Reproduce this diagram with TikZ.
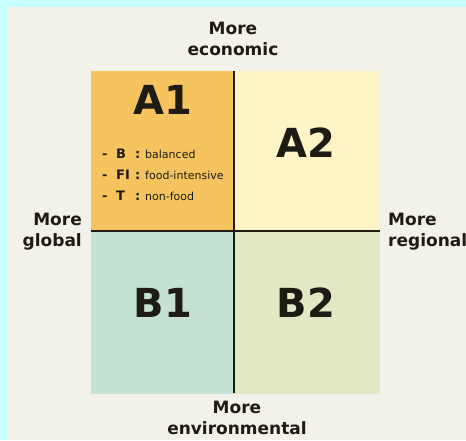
\documentclass[tikz,border=0pt]{standalone}
\usepackage{fontspec}
\setmainfont{DejaVu Sans}
\definecolor{frame}{HTML}{C6FFFF}
\definecolor{paper}{HTML}{F2F1EA}
\definecolor{qorange}{HTML}{F6C45E}
\definecolor{qcream}{HTML}{FFF4C6}
\definecolor{qmint}{HTML}{C5E1D1}
\definecolor{qolive}{HTML}{E2E8C4}
\definecolor{inkdark}{HTML}{1E1A14}

\tikzset{
  axislbl/.style={font=\fontsize{17}{21}\selectfont\bfseries, text=inkdark, inner sep=0pt},
  quadlbl/.style={font=\fontsize{40}{44}\selectfont\bfseries, text=inkdark, anchor=base, inner sep=0pt},
  keylbl/.style={font=\fontsize{13}{15}\selectfont\bfseries, text=inkdark, anchor=base west, inner sep=0pt},
  desclbl/.style={font=\fontsize{11}{13}\selectfont, text=inkdark, anchor=base west, inner sep=0pt}
}

\begin{document}
\begin{tikzpicture}[x=1pt, y=-1pt]

% ============================================================
% Page: cyan frame and paper background
% ============================================================
\useasboundingbox (0,0) rectangle (466,440);
\fill[frame] (0,0) rectangle (466,440);
\fill[paper] (7,7) rectangle (466,440);

% ============================================================
% Quadrants (left 91, middle 234, right 380; top 71, middle 231, bottom 394)
% ============================================================
\coordinate (nw) at (91,71);
\coordinate (se) at (380,394);
\coordinate (ctr) at (234,231);

\fill[qorange] (nw) rectangle (ctr);
\fill[qcream] (234,71) rectangle (380,231);
\fill[qmint] (91,231) rectangle (234,394);
\fill[qolive] (ctr) rectangle (se);

% Cross
\coordinate (vtop) at (234,71);
\coordinate (vbot) at (234,393);
\coordinate (hlft) at (91,231);
\coordinate (hrgt) at (380,231);
\draw[inkdark, line width=1.5pt] (vtop) -- (vbot);
\draw[inkdark, line width=1.5pt] (hlft) -- (hrgt);

% ============================================================
% Axis labels
% ============================================================
\node[axislbl, align=center, anchor=north] (econ) at (233,21.6) {More\\economic};
\node[axislbl, align=center, anchor=north] (envi) at (237,400.6) {More\\environmental};
\node[axislbl, align=right, anchor=north east] (glob) at (82,212.6) {More\\global};
\node[axislbl, align=left, anchor=north west] (regi) at (388,212.6) {More\\regional};

% ============================================================
% Quadrant labels
% ============================================================
\node[quadlbl] (a1) at (163,114) {A1};
\node[quadlbl] (a2) at (306,157) {A2};
\node[quadlbl] (b1) at (163,317) {B1};
\node[quadlbl] (b2) at (306,317) {B2};

% Legend inside A1
\foreach \y/\k/\d in {158/B/balanced, 179/FI/food-intensive, 200/T/non-food} {
  \node[keylbl] (dash\k) at (102,\y) {-};
  \node[keylbl] (key\k) at (116,\y) {\k};
  \node[keylbl] (col\k) at (135,\y) {:};
  \node[desclbl] (desc\k) at (145,\y) {\d};
}

\end{tikzpicture}
\end{document}
